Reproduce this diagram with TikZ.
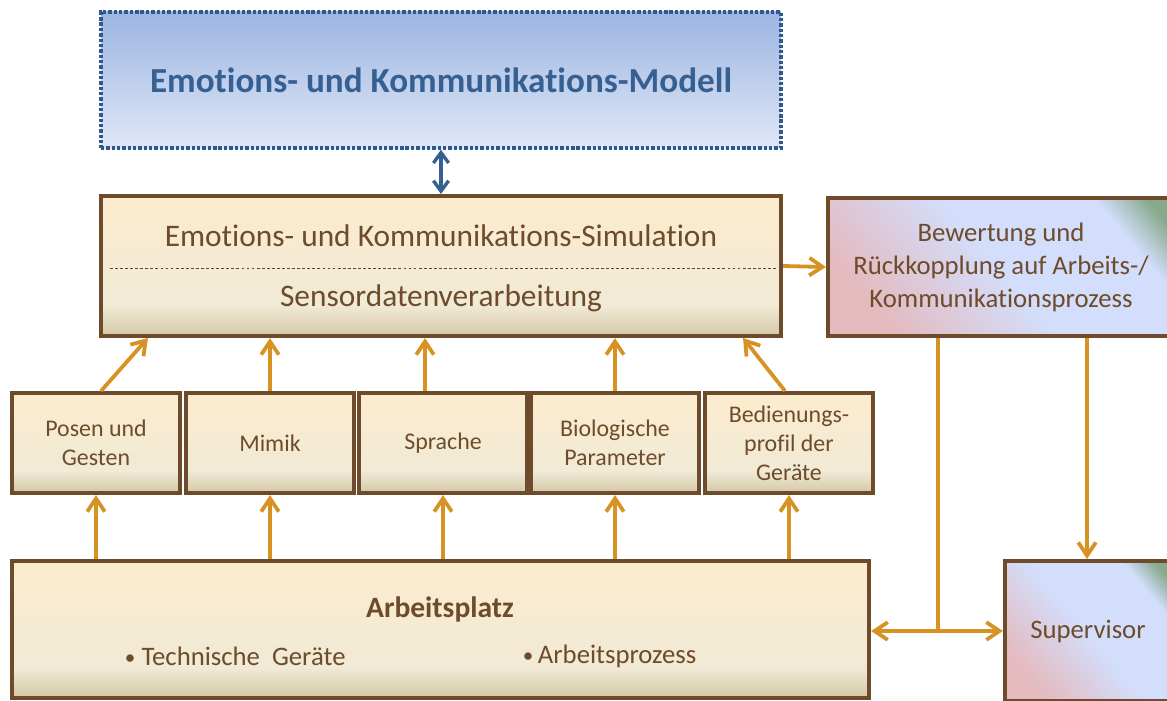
\documentclass[tikz,border=0pt]{standalone}
\usepackage{fontspec}
\setmainfont[Ligatures=NoCommon]{Carlito}
\usetikzlibrary{arrows.meta,calc}

\definecolor{boxbrown}{RGB}{110,75,42}
\definecolor{arrowgold}{RGB}{214,146,34}
\definecolor{modelblue}{RGB}{54,96,146}
\definecolor{dotblue}{RGB}{48,88,140}
\definecolor{creamtop}{RGB}{253,236,206}
\definecolor{creammid}{RGB}{240,234,214}
\definecolor{creambot}{RGB}{212,199,166}
\definecolor{bluetop}{RGB}{156,181,226}
\definecolor{bluebot}{RGB}{223,231,246}
\definecolor{rpink}{RGB}{228,186,190}
\definecolor{rblue}{RGB}{211,222,252}
\definecolor{rgreen}{RGB}{136,170,140}

\pgfdeclareverticalshading{creamshade}{100bp}{color(0bp)=(creambot); color(25bp)=(creambot); color(36bp)=(creammid); color(75bp)=(creamtop); color(100bp)=(creamtop)}
\pgfdeclareverticalshading{modelshade}{100bp}{color(0bp)=(bluebot); color(25bp)=(bluebot); color(75bp)=(bluetop); color(100bp)=(bluetop)}
\pgfdeclarehorizontalshading{rueckshade}{100bp}{color(0bp)=(rpink); color(25bp)=(rpink); color(50bp)=(rblue); color(73bp)=(rblue); color(81bp)=(rgreen); color(100bp)=(rgreen)}

\tikzset{
  cbox/.style={draw=boxbrown, line width=2.85pt, shading=creamshade, text=boxbrown, align=center, inner sep=0pt},
  smallbox/.style={cbox, minimum width=4.2cm, minimum height=2.5cm, font=\fontsize{17}{20.5}\selectfont},
  rbox/.style={draw=boxbrown, line width=2.85pt, shading=rueckshade, shading angle=40, text=boxbrown, align=center, inner sep=0pt, font=\fontsize{19}{23.5}\selectfont},
  arr/.style={draw=arrowgold, line width=2.7pt, -{Straight Barb[length=3.3mm,width=4.4mm]}},
  feed/.style={draw=arrowgold, line width=2.7pt},
}

\begin{document}
\begin{tikzpicture}[x=0.025cm, y=-0.025cm]
\def\xmid{441}
\def\ysmall{443}

\clip (0,0) rectangle (1167,700);

\node[draw=dotblue, line width=2.4pt, dash pattern=on 2.4pt off 1.4pt, shading=modelshade,
      minimum width=17cm, minimum height=3.4cm, text=modelblue,
      font=\bfseries\fontsize{25}{29}\selectfont] (model) at (\xmid, 80) {Emotions- und Kommunikations-Modell};

\node[cbox, minimum width=17cm, minimum height=3.5cm] (sim) at (\xmid, 266) {};
\node[text=boxbrown, font=\fontsize{22.3}{26}\selectfont] (simtop) at (\xmid, 236) {Emotions- und Kommunikations-Simulation};
\node[text=boxbrown, font=\fontsize{22.3}{26}\selectfont] (simbot) at (\xmid, 298) {Sensordatenverarbeitung};
\draw[black!70, line width=0.6pt, dash pattern=on 2pt off 1.6pt] ($(sim.west)+(11,2)$) -- ($(sim.east)+(-6,2)$);

\node[rbox, minimum width=8.65cm, minimum height=3.45cm] (bew) at (1001, 267) {Bewertung und\\Rückkopplung auf Arbeits-/\\Kommunikationsprozess};

\node[smallbox] (posen) at (96, \ysmall) {Posen und\\Gesten};
\node[smallbox] (mimik) at (270, \ysmall) {Mimik};
\node[smallbox] (sprache) at (443, \ysmall) {Sprache};
\node[smallbox] (bio) at (615, \ysmall) {Biologische\\Parameter};
\node[smallbox] (bedien) at (789, \ysmall) {Bedienungs-\\profil der\\Geräte};

\node[cbox, minimum width=21.425cm, minimum height=3.425cm] (arb) at (440.5, 629.5) {};
\node[text=boxbrown, font=\bfseries\fontsize{21}{25}\selectfont] (arbtitle) at (440, 609) {Arbeitsplatz};
\node[anchor=west, text=boxbrown, font=\fontsize{19}{23}\selectfont] (geraete) at (120, 656) {\raisebox{0.8pt}{\fontsize{15}{15}\selectfont\textbullet}\ Technische\ \ Geräte};
\node[anchor=west, text=boxbrown, font=\fontsize{19}{23}\selectfont] (prozess) at (518, 656) {\raisebox{0.8pt}{\fontsize{15}{15}\selectfont\textbullet}\,Arbeitsprozess};

\node[rbox, minimum width=4.15cm, minimum height=3.5cm] (sup) at (1088, 631) {Supervisor};

\draw[modelblue, line width=2.4pt, {Straight Barb[length=2.6mm,width=3.8mm]}-{Straight Barb[length=2.6mm,width=3.8mm]}] (model.south) -- (sim.north);
\draw[arr] (sim.east) -- (bew.west);

\draw[arr] ($(posen.north)+(5,0)$) -- ($(sim.south west)+(49,0)$);
\draw[arr] (mimik.north) -- (mimik.north |- sim.south);
\coordinate (sprtop) at ($(sprache.north)+(-18,0)$);
\draw[arr] (sprtop) -- (sprtop |- sim.south);
\draw[arr] (bio.north) -- (bio.north |- sim.south);
\draw[arr] ($(bedien.north)+(-4,0)$) -- ($(sim.south east)+(-40,0)$);

\draw[arr] (posen.south |- arb.north) -- (posen.south);
\draw[arr] (mimik.south |- arb.north) -- (mimik.south);
\draw[arr] (sprache.south |- arb.north) -- (sprache.south);
\draw[arr] (bio.south |- arb.north) -- (bio.south);
\draw[arr] (bedien.south |- arb.north) -- (bedien.south);

\coordinate (junc) at ([xshift=-15.75mm]bew.south |- sup.west);
\draw[feed] ([xshift=-15.75mm]bew.south) -- (junc);
\draw[arr] (junc) -- (arb.east |- junc);
\draw[arr] (junc) -- (sup.west);
\draw[arr] ([xshift=21.5mm]bew.south) -- ([xshift=21.5mm]bew.south |- sup.north);

\end{tikzpicture}
\end{document}
